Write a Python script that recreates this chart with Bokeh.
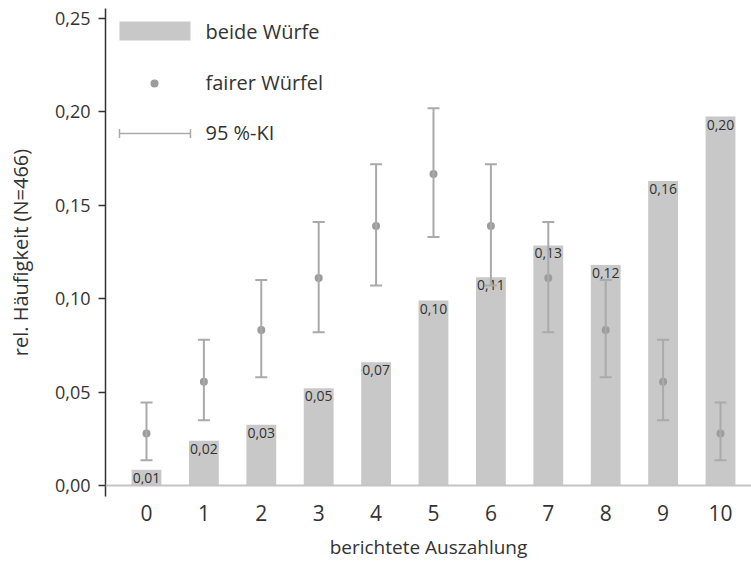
from bokeh.plotting import figure
from bokeh.models import (ColumnDataSource, Range1d, FixedTicker, Whisker, TeeHead,
                          Span, BoxAnnotation, Label, Arrow)
from bokeh.embed import file_html
from bokeh.resources import INLINE
from bokeh.core.properties import value

# ---- data ----
payout = [0, 1, 2, 3, 4, 5, 6, 7, 8, 9, 10]
both_rolls = [0.0085, 0.024, 0.0325, 0.052, 0.066, 0.099, 0.1115, 0.1285, 0.118, 0.163, 0.1975]
bar_labels = ["0,01", "0,02", "0,03", "0,05", "0,07", "0,10", "0,11", "0,13", "0,12", "0,16", "0,20"]
fair_die = [0.0278, 0.0556, 0.0833, 0.1111, 0.1389, 0.1667, 0.1389, 0.1111, 0.0833, 0.0556, 0.0278]
ci_low = [0.0135, 0.035, 0.058, 0.082, 0.107, 0.133, 0.107, 0.082, 0.058, 0.035, 0.0135]
ci_high = [0.0445, 0.078, 0.110, 0.141, 0.172, 0.202, 0.172, 0.141, 0.110, 0.078, 0.0445]
y_ticks = [0.0, 0.05, 0.1, 0.15, 0.2, 0.25]
y_tick_labels = ["0,00", "0,05", "0,10", "0,15", "0,20", "0,25"]
legend_labels = ["beide Würfe", "fairer Würfel", "95 %-KI"]
x_title = "berichtete Auszahlung"
y_title = "rel. Häufigkeit (N=466)"

BAR = "#c8c8c8"
DOT = "#9c9c9c"
ERR = "#aaaaaa"
TXT = "#333333"
FONT = "Open Sans"

src = ColumnDataSource(dict(x=payout, top=both_rolls, lab=bar_labels,
                            fair=fair_die, lo=ci_low, hi=ci_high))

p = figure(width=751, height=562, output_backend="svg", toolbar_location=None,
           x_range=Range1d(-0.714, 10.54), y_range=Range1d(-0.00588, 0.25534),
           min_border_left=105, min_border_right=0, min_border_top=8, min_border_bottom=65)
p.outline_line_color = None
p.xgrid.visible = False
p.ygrid.visible = False
p.background_fill_color = "white"
p.border_fill_color = "white"

# baseline at zero
p.add_layout(Span(location=0, dimension="width", line_color="#c4c4c4", line_width=2))

# bars
p.vbar(x="x", top="top", bottom=0, width=0.52, source=src, fill_color=BAR, line_color=None)
p.text(x="x", y="top", text="lab", source=src, text_align="center", text_baseline="top",
       y_offset=3, text_font=value(FONT), text_font_size="14px", text_color=TXT)

# error bars
p.add_layout(Whisker(base="x", lower="lo", upper="hi", source=src, dimension="height",
                     level="annotation", line_color=ERR, line_width=2,
                     upper_head=TeeHead(size=12, line_color=ERR, line_width=2),
                     lower_head=TeeHead(size=12, line_color=ERR, line_width=2)))
dots = p.scatter(x="x", y="fair", source=src, size=8, fill_color=DOT, line_color=None)
dots.level = "annotation"

# axes
ya = p.yaxis[0]
ya.ticker = FixedTicker(ticks=y_ticks)
ya.major_label_overrides = {t: l for t, l in zip(y_ticks, y_tick_labels)}
ya.axis_line_color = "#333333"
ya.axis_line_width = 1.5
ya.major_tick_line_color = "#333333"
ya.major_tick_line_width = 1.5
ya.major_tick_out = 7
ya.major_tick_in = 0
ya.minor_tick_line_color = None
ya.major_label_standoff = 8
ya.major_label_text_font = FONT
ya.major_label_text_font_size = "18px"
ya.major_label_text_color = TXT
ya.axis_label = y_title
ya.axis_label_text_font = FONT
ya.axis_label_text_font_size = "20px"
ya.axis_label_text_font_style = "normal"
ya.axis_label_text_color = TXT
ya.axis_label_standoff = 18

xa = p.xaxis[0]
xa.ticker = FixedTicker(ticks=payout)
xa.axis_line_color = None
xa.major_tick_line_color = None
xa.minor_tick_line_color = None
xa.major_label_standoff = 2
xa.major_label_text_font = FONT
xa.major_label_text_font_size = "21px"
xa.major_label_text_color = TXT
xa.axis_label = x_title
xa.axis_label_text_font = FONT
xa.axis_label_text_font_size = "19px"
xa.axis_label_text_font_style = "normal"
xa.axis_label_text_color = TXT
xa.axis_label_standoff = 10

# legend (screen units relative to the frame)
p.add_layout(BoxAnnotation(left=14, right=85, bottom=456, top=475,
                           left_units="screen", right_units="screen",
                           bottom_units="screen", top_units="screen",
                           fill_color=BAR, fill_alpha=1, line_color=None))
p.add_layout(BoxAnnotation(left=45, right=53, bottom=409, top=417,
                           left_units="screen", right_units="screen",
                           bottom_units="screen", top_units="screen",
                           fill_color=DOT, fill_alpha=1, line_color=None, border_radius=4))
p.add_layout(Arrow(x_start=14, x_end=85, y_start=363, y_end=363,
                   start_units="screen", end_units="screen",
                   line_color=ERR, line_width=1.5,
                   start=TeeHead(size=9, line_color=ERR, line_width=1.5),
                   end=TeeHead(size=9, line_color=ERR, line_width=1.5)))
for lab, yy in zip(legend_labels, [465, 414, 364]):
    p.add_layout(Label(x=100, y=yy, x_units="screen", y_units="screen", text=lab,
                       text_baseline="middle", text_font=FONT, text_font_size="20px",
                       text_color=TXT))

open("out.html", "w").write(file_html(p, INLINE))
